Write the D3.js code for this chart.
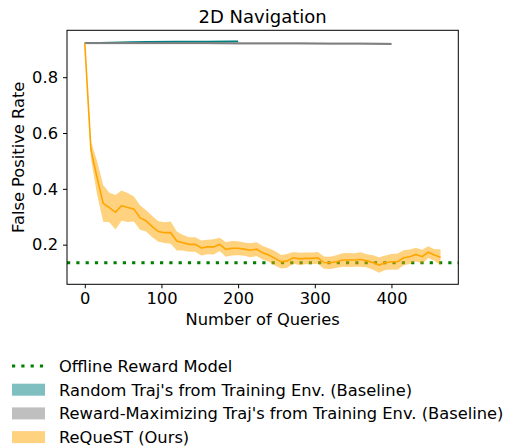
<!DOCTYPE html>
<meta charset="utf-8">
<head>
  <title>2D Navigation - false positive rate</title>
</head>

<style>
body { margin: 0; background: white; }
text {
  font-family: "DejaVu Sans", sans-serif;
  fill: black;
}
.axis text { font-size: 16.3px; }
.axis path, .axis line { stroke: black; }
</style>

<body>
  <svg width="513" height="448"></svg>

  <script src="https://cdnjs.cloudflare.com/ajax/libs/d3/7.8.5/d3.min.js"></script>
  <script>

// queries sampled every 8
var queries = d3.range(0, 465, 8);

// ReQueST (Ours): mean and half-width of shaded band
var requestMean = [0.922, 0.54, 0.44, 0.348, 0.333, 0.316, 0.34, 0.333, 0.328, 0.297,
  0.285, 0.265, 0.247, 0.243, 0.243, 0.213, 0.207, 0.201, 0.201, 0.188,
  0.192, 0.192, 0.201, 0.183, 0.187, 0.187, 0.184, 0.18, 0.184, 0.171,
  0.163, 0.151, 0.139, 0.142, 0.153, 0.149, 0.151, 0.151, 0.153, 0.136,
  0.135, 0.139, 0.145, 0.145, 0.145, 0.147, 0.142, 0.136, 0.127, 0.135,
  0.139, 0.139, 0.153, 0.157, 0.165, 0.157, 0.173, 0.163, 0.155];
var requestErr = [0.004, 0.03, 0.06, 0.066, 0.053, 0.062, 0.054, 0.052, 0.045, 0.044,
  0.038, 0.038, 0.037, 0.037, 0.04, 0.034, 0.028, 0.026, 0.026, 0.027,
  0.026, 0.027, 0.024, 0.026, 0.026, 0.025, 0.024, 0.025, 0.025, 0.024,
  0.024, 0.026, 0.024, 0.025, 0.021, 0.022, 0.021, 0.021, 0.021, 0.022,
  0.022, 0.023, 0.024, 0.025, 0.024, 0.026, 0.024, 0.026, 0.028, 0.026,
  0.028, 0.029, 0.027, 0.026, 0.024, 0.025, 0.021, 0.021, 0.029];

// Random Traj's from Training Env. (Baseline)
var randomQueries = [0, 40, 80, 120, 160, 200];
var randomMean = [0.922, 0.924, 0.926, 0.927, 0.927, 0.928];
var randomErr = [0.003, 0.003, 0.003, 0.003, 0.003, 0.003];

// Reward-Maximizing Traj's from Training Env. (Baseline)
var rewmaxQueries = [0, 40, 80, 120, 160, 200, 240, 280, 320, 360, 400];
var rewmaxMean = [0.922, 0.922, 0.922, 0.922, 0.922, 0.921, 0.921, 0.921, 0.92, 0.92, 0.919];
var rewmaxErr = [0.004, 0.004, 0.004, 0.004, 0.004, 0.004, 0.004, 0.004, 0.004, 0.004, 0.004];

// Offline Reward Model
var offlineRate = 0.135;

var xTicks = [0, 100, 200, 300, 400];
var yTicks = [0.2, 0.4, 0.6, 0.8];

var legendLabels = [
  "Offline Reward Model",
  "Random Traj's from Training Env. (Baseline)",
  "Reward-Maximizing Traj's from Training Env. (Baseline)",
  "ReQueST (Ours)"
];

var plotLeft = 67, plotRight = 458.3, plotTop = 30.3, plotBottom = 284.3;

// matplotlib style 5% padding
var xMax = d3.max(queries);
var x = d3.scaleLinear()
  .domain([-0.05 * xMax, xMax * 1.05])
  .range([plotLeft, plotRight]);

var y = d3.scaleLinear()
  .domain([0.058, 0.968])
  .range([plotBottom, plotTop]);

var svg = d3.select('svg');

function series(xs, means, errs, color, lw) {
  var pts = xs.map(function(q, i) { return {q: q, m: means[i], e: errs[i]}; });
  svg.append('path')
    .datum(pts)
    .attr('fill', color)
    .attr('fill-opacity', 0.5)
    .attr('d', d3.area()
      .x(function(d) { return x(d.q); })
      .y0(function(d) { return y(d.m - d.e); })
      .y1(function(d) { return y(d.m + d.e); }));
  svg.append('path')
    .datum(pts)
    .attr('fill', 'none')
    .attr('stroke', color)
    .attr('stroke-width', lw)
    .attr('d', d3.line()
      .x(function(d) { return x(d.q); })
      .y(function(d) { return y(d.m); }));
}

svg.append('line')
  .attr('x1', plotLeft).attr('x2', plotRight)
  .attr('y1', y(offlineRate)).attr('y2', y(offlineRate))
  .attr('stroke', 'green')
  .attr('stroke-width', 3)
  .attr('stroke-dasharray', '3.2,6.1');

series(randomQueries, randomMean, randomErr, 'teal', 1.8);
series(rewmaxQueries, rewmaxMean, rewmaxErr, 'gray', 1.8);
series(queries, requestMean, requestErr, 'orange', 1.6);

// frame
svg.append('rect')
  .attr('x', plotLeft).attr('y', plotTop)
  .attr('width', plotRight - plotLeft).attr('height', plotBottom - plotTop)
  .attr('fill', 'none')
  .attr('stroke', 'black')
  .attr('stroke-width', 1);

var xAxis = svg.append('g')
  .attr('class', 'axis')
  .attr('transform', 'translate(0,' + plotBottom + ')')
  .call(d3.axisBottom(x).tickValues(xTicks).tickSize(4).tickPadding(4));
xAxis.select('.domain').remove();

var yAxis = svg.append('g')
  .attr('class', 'axis')
  .attr('transform', 'translate(' + plotLeft + ',0)')
  .call(d3.axisLeft(y).tickValues(yTicks).tickSize(4).tickPadding(5)
    .tickFormat(d3.format('.1f')));
yAxis.select('.domain').remove();
svg.selectAll('.axis').attr('font-family', null).attr('font-size', null);

svg.append('text')
  .attr('x', (plotLeft + plotRight) / 2).attr('y', 23)
  .attr('text-anchor', 'middle')
  .style('font-size', '18px')
  .text('2D Navigation');

svg.append('text')
  .attr('x', (plotLeft + plotRight) / 2).attr('y', 325)
  .attr('text-anchor', 'middle')
  .style('font-size', '16.3px')
  .text('Number of Queries');

svg.append('text')
  .attr('transform', 'translate(24,' + ((plotTop + plotBottom) / 2) + ') rotate(-90)')
  .attr('text-anchor', 'middle')
  .style('font-size', '16.3px')
  .text('False Positive Rate');

// legend
var legendColors = ['green', 'teal', 'gray', 'orange'];
var legend = svg.append('g')
  .selectAll('g')
  .data(legendLabels)
  .enter()
  .append('g')
  .attr('transform', function(d, i) { return 'translate(12,' + (366 + i * 23.7) + ')'; });

legend.each(function(d, i) {
  var g = d3.select(this);
  if (i === 0) {
    g.append('line')
      .attr('x1', 0).attr('x2', 33).attr('y1', 0).attr('y2', 0)
      .attr('stroke', legendColors[i])
      .attr('stroke-width', 3)
      .attr('stroke-dasharray', '3.2,6.1');
  } else {
    g.append('rect')
      .attr('x', 0).attr('y', -6).attr('width', 33).attr('height', 12)
      .attr('fill', legendColors[i])
      .attr('fill-opacity', 0.5);
  }
});

legend.append('text')
  .attr('x', 47)
  .attr('y', 6)
  .style('font-size', '16.3px')
  .text(function(d) { return d; });

  </script>
</body>
</html>
